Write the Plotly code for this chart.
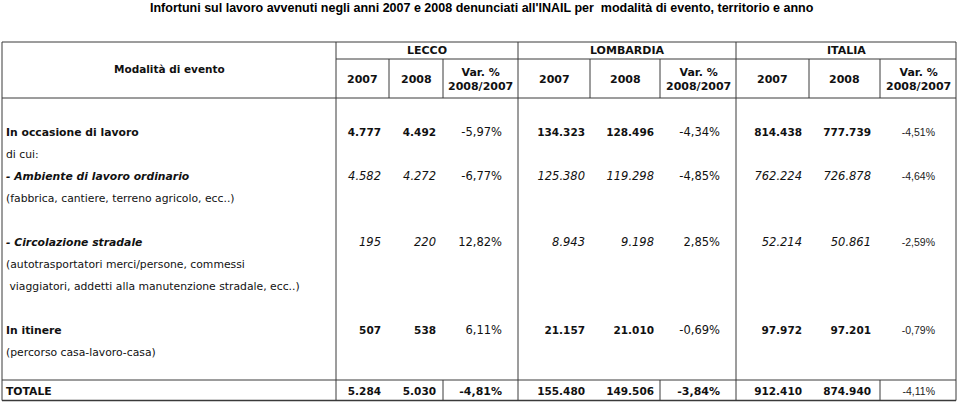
import plotly.graph_objects as go

# --- data -------------------------------------------------------------
title = ("Infortuni sul lavoro avvenuti negli anni 2007 e 2008 denunciati "
         "all'INAIL per  modalità di evento, territorio e anno")
territories = ["LECCO", "LOMBARDIA", "ITALIA"]
sub_headers = ["2007", "2008", "Var. %<br>2008/2007"]

row_labels = [
    "In occasione di lavoro",
    "di cui:",
    "- Ambiente di lavoro ordinario",
    "(fabbrica, cantiere, terreno agricolo, ecc..)",
    "",
    "- Circolazione stradale",
    "(autotrasportatori merci/persone, commessi",
    " viaggiatori, addetti alla manutenzione stradale, ecc..)",
    "",
    "In itinere",
    "(percorso casa-lavoro-casa)",
]
label_styles = ["bold", "plain", "bolditalic", "plain", "plain", "bolditalic",
                "plain", "plain", "plain", "bold", "plain"]
total_label = "TOTALE"

# rows that carry numbers (line index in row_labels) and their style
value_lines = [0, 2, 5, 9]
value_styles = ["bold", "italic", "italic", "bold"]

lecco_2007 = [4777, 4582, 195, 507]
lecco_2008 = [4492, 4272, 220, 538]
lecco_var = [-5.97, -6.77, 12.82, 6.11]
lombardia_2007 = [134323, 125380, 8943, 21157]
lombardia_2008 = [128496, 119298, 9198, 21010]
lombardia_var = [-4.34, -4.85, 2.85, -0.69]
italia_2007 = [814438, 762224, 52214, 97972]
italia_2008 = [777739, 726878, 50861, 97201]
italia_var = [-4.51, -4.64, -2.59, -0.79]

totale_2007 = [5284, 155480, 912410]
totale_2008 = [5030, 149506, 874940]
totale_var = [-4.81, -3.84, -4.11]

# --- layout constants ---------------------------------------------------
W, H = 960, 402
EDGES = [2, 336, 389, 443, 518, 590, 660, 736, 809, 880, 956]
RIGHT = [381, 436, 502, 585, 654, 720, 802, 871, 935]
TOP, SUB, HEAD_BOT, TOT_TOP, BOT = 42, 59, 98, 380, 400.5
LINE0, PITCH = 133, 22
TOT_Y = 392
BODY_FONT = "DejaVu Sans"
LINE_COLOR = "#3a3a3a"


def fmt_int(v):
    return f"{v:,}".replace(",", ".")


def fmt_pct(v):
    return f"{v:.2f}".replace(".", ",") + "%"


def styled(text, style):
    if style == "bold":
        return f"<b>{text}</b>"
    if style == "italic":
        return f"<i>{text}</i>"
    if style == "bolditalic":
        return f"<b><i>{text}</i></b>"
    return text


fig = go.Figure()

# row labels
fig.add_trace(go.Scatter(
    x=[EDGES[0] + 4] * (len(row_labels) + 1),
    y=[LINE0 + i * PITCH for i in range(len(row_labels))] + [TOT_Y],
    text=[styled(t.replace(" ", "&nbsp;", 1) if t.startswith(" ") else t, s)
          for t, s in zip(row_labels, label_styles)] + [styled(total_label, "bold")],
    mode="text",
    textposition="middle right",
    textfont=dict(family=BODY_FONT, size=10.8, color="#111"),
    hoverinfo="skip",
))

# numbers: one trace per column and style so each can get its own size
columns = [lecco_2007, lecco_2008, lecco_var,
           lombardia_2007, lombardia_2008, lombardia_var,
           italia_2007, italia_2008, italia_var]
for ci, col in enumerate(columns):
    is_pct = ci % 3 == 2
    t = ci // 3
    ys = [LINE0 + li * PITCH for li in value_lines] + [TOT_Y]
    if is_pct:
        vals = [fmt_pct(v) for v in col] + [fmt_pct(totale_var[t])]
        styles = ["plain"] * len(col) + ["plain" if t == 2 else "bold"]
    else:
        src = totale_2007 if ci % 3 == 0 else totale_2008
        vals = [fmt_int(v) for v in col] + [fmt_int(src[t])]
        styles = value_styles + ["bold"]
    for st in set(styles):
        idx = [i for i, s in enumerate(styles) if s == st]
        if is_pct and t == 2:
            font = dict(family="Liberation Sans", size=10.5, color="#222")
        elif is_pct:
            font = dict(family=BODY_FONT, size=11.5 if st == "plain" else 11, color="#111")
        else:
            font = dict(family=BODY_FONT, size=10.5 if st == "bold" else 11.5, color="#111")
        fig.add_trace(go.Scatter(
            x=[RIGHT[ci]] * len(idx),
            y=[ys[i] for i in idx],
            text=[styled(vals[i], st) for i in idx],
            mode="text",
            textposition="middle left",
            textfont=font,
            hoverinfo="skip",
        ))

# header texts
ann = [dict(x=W / 2 + 2, y=8, text="<b>" + title + "</b>",
            font=dict(family="Liberation Sans", size=12.5, color="#000"))]
ann.append(dict(x=(EDGES[0] + EDGES[1]) / 2, y=69, text="<b>Modalità di evento</b>",
                font=dict(family=BODY_FONT, size=10.5, color="#111")))
for t, name in enumerate(territories):
    a, b = EDGES[1 + 3 * t], EDGES[4 + 3 * t]
    ann.append(dict(x=(a + b) / 2, y=(TOP + SUB) / 2, text=f"<b>{name}</b>",
                    font=dict(family=BODY_FONT, size=11, color="#111")))
    for k, sh in enumerate(sub_headers):
        c0, c1 = EDGES[1 + 3 * t + k], EDGES[2 + 3 * t + k]
        ann.append(dict(x=(c0 + c1) / 2, y=(SUB + HEAD_BOT) / 2 + 1,
                        text=f"<b>{sh}</b>",
                        font=dict(family=BODY_FONT, size=11, color="#111")))
for a in ann:
    a.update(xref="x", yref="y", showarrow=False, xanchor="center", yanchor="middle")

# grid lines
shapes = []


def hline(y, x0, x1, w=1):
    shapes.append(dict(type="line", x0=x0, x1=x1, y0=y, y1=y,
                       line=dict(color=LINE_COLOR, width=w)))


def vline(x, y0, y1, w=1):
    shapes.append(dict(type="line", x0=x, x1=x, y0=y0, y1=y1,
                       line=dict(color=LINE_COLOR, width=w)))


hline(TOP, EDGES[0], EDGES[-1])
hline(SUB, EDGES[1], EDGES[-1])
hline(HEAD_BOT, EDGES[0], EDGES[-1])
hline(TOT_TOP, EDGES[0], EDGES[-1])
hline(BOT, EDGES[0], EDGES[-1], 1.5)
for x in [EDGES[0], EDGES[1], EDGES[4], EDGES[7], EDGES[10]]:
    vline(x, TOP, BOT)
for i in [2, 3, 5, 6, 8, 9]:
    vline(EDGES[i], SUB, HEAD_BOT)
for i in [3, 6, 9]:
    vline(EDGES[i], TOT_TOP, BOT)

fig.update_layout(
    width=W, height=H,
    margin=dict(l=0, r=0, t=0, b=0),
    paper_bgcolor="white", plot_bgcolor="white",
    showlegend=False,
    hovermode=False,
    xaxis=dict(range=[0, W], visible=False, fixedrange=True),
    yaxis=dict(range=[H, 0], visible=False, fixedrange=True),
    annotations=ann,
    shapes=shapes,
)

fig.write_html("out.html", config={"displayModeBar": False},
               post_script="document.body.style.margin='0px';")
